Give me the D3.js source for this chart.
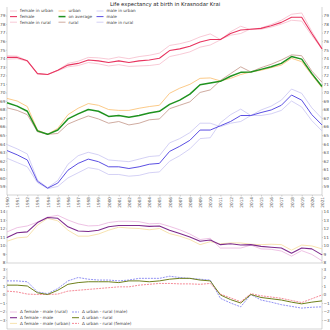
<!DOCTYPE html>
<html><head><meta charset="utf-8">
<script src="https://cdn.jsdelivr.net/npm/d3@7"></script>
<style>body{margin:0;background:#fff}svg{display:block}text{font-family:"DejaVu Sans",sans-serif}</style>
</head><body><svg id="c" width="330" height="330"></svg>
<script>
const years = [1990,1991,1992,1993,1994,1995,1996,1997,1998,1999,2000,2001,2002,2003,2004,2005,2006,2007,2008,2009,2010,2011,2012,2013,2014,2015,2016,2017,2018,2019,2020,2021];

const female      = [74.1,74.1,73.7,72.2,72.1,72.6,73.2,73.4,73.8,73.7,73.5,73.7,73.5,73.7,73.8,74.0,74.9,75.1,75.4,75.9,76.2,76.2,76.9,77.3,77.4,77.5,77.8,78.2,78.8,78.8,76.9,75.1];
const femaleUrban = [74.3,74.25,73.7,72.2,72.1,72.6,73.4,73.65,74.1,74.05,73.9,74.15,73.95,74.2,74.35,74.6,75.5,75.7,76.0,76.5,76.85,76.2,76.7,76.9,77.45,77.4,77.65,78.0,78.45,78.35,76.65,75.1];
const femaleRural = [73.9,73.95,73.65,72.2,72.1,72.55,73.0,73.15,73.5,73.35,73.1,73.25,73.05,73.1,73.15,73.3,74.2,74.45,74.75,75.3,75.55,76.15,77.1,77.75,77.35,77.55,77.95,78.45,79.15,79.3,77.15,75.15];
const urban       = [69.3,69.0,68.35,65.6,65.1,65.8,67.4,68.15,68.7,68.5,68.0,67.9,67.9,68.15,68.35,68.5,69.9,70.5,70.95,71.65,71.7,71.35,71.65,72.1,72.4,72.6,72.9,73.2,74.0,73.6,72.05,70.55];
const average     = [68.8,68.4,67.8,65.5,65.1,65.6,66.9,67.5,68.0,67.8,67.2,67.3,67.1,67.3,67.6,67.8,68.6,69.1,69.8,70.9,71.1,71.3,71.9,72.35,72.4,72.7,73.0,73.4,74.2,73.9,72.2,70.7];
const rural       = [68.2,67.9,67.4,65.4,65.1,65.2,66.3,66.8,67.25,66.9,66.4,66.6,66.2,66.4,66.8,66.9,68.1,68.5,68.9,70.0,70.3,71.4,72.2,73.0,72.4,72.9,73.3,73.8,74.4,74.3,72.5,71.2];
const male        = [63.2,62.7,62.1,59.6,58.8,59.4,60.9,61.7,62.2,61.9,61.3,61.3,61.1,61.3,61.6,61.7,63.1,63.7,64.4,65.6,65.6,66.1,66.6,67.3,67.3,67.65,67.95,68.5,69.7,69.1,67.4,66.2];
const maleUrban   = [63.9,63.4,62.8,59.75,58.85,59.7,61.6,62.6,63.0,62.7,62.1,62.0,61.9,62.2,62.5,62.6,64.1,64.6,65.3,66.4,66.4,66.0,66.4,66.6,67.3,67.3,67.5,67.9,69.0,68.3,66.7,65.5];
const maleRural   = [62.3,61.8,61.3,59.45,58.75,59.0,60.0,60.6,61.2,61.0,60.4,60.4,60.2,60.3,60.6,60.7,61.95,62.6,63.4,64.6,64.7,66.45,67.4,68.05,67.3,67.95,68.4,69.1,70.4,69.9,68.2,66.95];

const dFM      = [10.95,11.5,11.6,12.7,13.3,13.2,12.2,11.7,11.65,11.8,12.2,12.35,12.35,12.35,12.25,12.3,11.8,11.4,11.0,10.5,10.65,10.1,10.2,10.05,10.1,9.9,9.8,9.7,9.1,9.7,9.6,8.9];
const dFMUrban = [10.5,10.9,11.0,12.4,13.2,12.9,11.8,11.1,11.1,11.35,11.8,12.15,12.05,12.0,11.85,12.0,11.4,11.1,10.7,10.1,10.45,10.2,10.3,10.3,10.15,10.1,10.15,10.1,9.45,10.05,9.95,9.6];
const dFMRural = [11.6,12.1,12.3,12.75,13.35,13.55,13.0,12.55,12.3,12.35,12.7,12.85,12.85,12.8,12.55,12.6,12.25,11.85,11.35,10.7,10.85,9.7,9.7,9.7,10.05,9.6,9.55,9.35,8.75,9.4,8.95,8.2];

const dURMale   = [1.6,1.6,1.5,0.3,0.1,0.7,1.6,2.0,1.8,1.7,1.7,1.6,1.7,1.9,1.9,1.9,2.15,2.0,1.9,1.8,1.7,-0.45,-1.0,-1.45,0.0,-0.65,-0.9,-1.2,-1.4,-1.6,-1.5,-1.45];
const dUR       = [1.1,1.1,1.0,0.2,0.0,0.5,1.2,1.4,1.5,1.5,1.5,1.4,1.6,1.6,1.5,1.6,1.8,1.9,1.9,1.7,1.6,-0.05,-0.6,-1.0,0.0,-0.35,-0.5,-0.65,-0.9,-1.1,-0.9,-0.75];
const dURFemale = [0.4,0.3,0.05,0.0,0.0,0.05,0.4,0.5,0.6,0.7,0.8,0.9,0.9,1.1,1.2,1.3,1.3,1.25,1.25,1.2,1.3,0.05,-0.4,-0.85,0.1,-0.15,-0.3,-0.45,-0.7,-0.95,-0.5,-0.05];

const ticks1 = [59,60,61,62,63,64,65,66,67,68,69,70,71,72,73,74,75,76,77,78,79];
const ticks2 = [8,9,10,11,12,13,14];
const ticks3 = [-3,-2,-1,0,1,2,3];

const svg = d3.select("#c");
const L = 7, R = 322;
const x = d3.scaleLinear().domain([1990, 2021]).range([L, R]);
const y1 = d3.scaleLinear().domain([58, 80]).range([195, 7]);
const y2 = d3.scaleLinear().domain([8, 14]).range([262.5, 211.5]);
const y3 = d3.scaleLinear().domain([-4, 3]).range([328.5, 269]);

svg.append("text").attr("x", 165).attr("y", 5.5).attr("text-anchor", "middle")
  .attr("font-size", 5.3).attr("fill", "#222").text("Life expectancy at birth in Krasnodar Krai");

function yAxes(y, ticks, top, bottom) {
  const gl = svg.append("g").attr("transform", `translate(${L},0)`)
    .call(d3.axisLeft(y).tickValues(ticks).tickSize(1).tickPadding(0.6).tickFormat(d3.format("d")));
  const gr = svg.append("g").attr("transform", `translate(${R},0)`)
    .call(d3.axisRight(y).tickValues(ticks).tickSize(1).tickPadding(0.6).tickFormat(d3.format("d")));
  [gl, gr].forEach(g => {
    g.selectAll("text").attr("font-size", 4.2).attr("fill", "#555");
    g.selectAll("line").attr("stroke", "#999").attr("stroke-width", 0.4);
    g.select(".domain").remove();
  });
  svg.append("line").attr("x1", L).attr("x2", L).attr("y1", top).attr("y2", bottom).attr("stroke", "#aaa").attr("stroke-width", 0.5);
  svg.append("line").attr("x1", R).attr("x2", R).attr("y1", top).attr("y2", bottom).attr("stroke", "#aaa").attr("stroke-width", 0.5);
  svg.append("line").attr("x1", L).attr("x2", R).attr("y1", bottom).attr("y2", bottom).attr("stroke", "#aaa").attr("stroke-width", 0.5);
}
yAxes(y1, ticks1, 7, 195);
yAxes(y2, ticks2, 210, 263);
yAxes(y3, ticks3, 268, 329);

const gx = svg.append("g").attr("transform", "translate(0,195)")
  .call(d3.axisBottom(x).tickValues(years).tickSize(1.5).tickFormat(d3.format("d")));
gx.select(".domain").remove();
gx.selectAll("line").attr("stroke", "#999").attr("stroke-width", 0.4);
gx.selectAll("text").attr("font-size", 4.2).attr("fill", "#555")
  .attr("transform", "rotate(-90)").attr("text-anchor", "end")
  .attr("x", -2).attr("y", 0).attr("dy", "0.35em");

function drawLine(vals, y, color, w, dash) {
  const line = d3.line().x((d, i) => x(years[i])).y(d => y(d));
  const p = svg.append("path").datum(vals).attr("d", line).attr("fill", "none")
    .attr("stroke", color).attr("stroke-width", w).attr("stroke-linejoin", "round");
  if (dash) p.attr("stroke-dasharray", dash);
}

const C = {
  fl: "#f6bccb", f: "#e8345f", u: "#fbc47c", a: "#1f921f", r: "#c9a295", ml: "#c9c5f3", m: "#5b4fe3",
  dfm: "#7d2a8c", dfmU: "#f5dc9c", dfmR: "#eab3dd",
  durM: "#6464ee", dur: "#6f801c", durF: "#f0596b"
};

// panel 1
drawLine(femaleUrban, y1, C.fl, 0.8);
drawLine(femaleRural, y1, C.fl, 0.8);
drawLine(maleUrban, y1, C.ml, 0.8);
drawLine(maleRural, y1, C.ml, 0.8);
drawLine(urban, y1, C.u, 0.9);
drawLine(rural, y1, C.r, 0.9);
drawLine(female, y1, C.f, 1.1);
drawLine(male, y1, C.m, 1.0);
drawLine(average, y1, C.a, 1.5);

// panel 2
drawLine(dFMUrban, y2, C.dfmU, 0.8);
drawLine(dFMRural, y2, C.dfmR, 0.8);
drawLine(dFM, y2, C.dfm, 1.1);

// panel 3
drawLine(dURMale, y3, C.durM, 0.7, "2,1");
drawLine(dURFemale, y3, C.durF, 0.7, "2,1");
drawLine(dUR, y3, C.dur, 1.0);

function legend(items, xs, y0, rowH) {
  items.forEach((it, k) => {
    const col = Math.floor(k / 3), row = k % 3;
    const lx = xs[col], ly = y0 + row * rowH;
    const ln = svg.append("line").attr("x1", lx).attr("x2", lx + 7).attr("y1", ly).attr("y2", ly)
      .attr("stroke", it.c).attr("stroke-width", it.w);
    if (it.d) ln.attr("stroke-dasharray", it.d);
    svg.append("text").attr("x", lx + 10).attr("y", ly).attr("dy", "0.35em")
      .attr("font-size", 4.2).attr("fill", "#444").text(it.t);
  });
}
legend([
  {t: "female in urban", c: C.fl, w: 0.8}, {t: "female", c: C.f, w: 1.1}, {t: "female in rural", c: C.fl, w: 0.8},
  {t: "urban", c: C.u, w: 0.9}, {t: "on average", c: C.a, w: 1.5}, {t: "rural", c: C.r, w: 0.9},
  {t: "male in urban", c: C.ml, w: 0.8}, {t: "male", c: C.m, w: 1.0}, {t: "male in rural", c: C.ml, w: 0.8}
], [10, 58.5, 96.5], 11, 5.6);
legend([
  {t: "Δ female - male (rural)", c: C.dfmR, w: 0.8}, {t: "Δ female - male", c: C.dfm, w: 1.1}, {t: "Δ female - male (urban)", c: C.dfmU, w: 0.8},
  {t: "Δ urban - rural (male)", c: C.durM, w: 0.7, d: "2,1"}, {t: "Δ urban - rural", c: C.dur, w: 1.0}, {t: "Δ urban - rural (female)", c: C.durF, w: 0.7, d: "2,1"}
], [10, 72], 312, 5.7);
</script></body></html>
